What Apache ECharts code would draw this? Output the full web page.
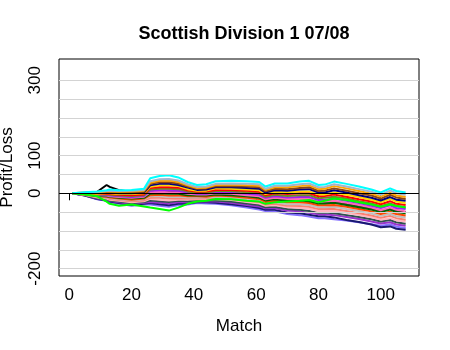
<!DOCTYPE html>
<html>
<head>
<meta charset="utf-8">
<script src="https://cdn.jsdelivr.net/npm/echarts@6/dist/echarts.min.js"></script>
<style>html,body{margin:0;padding:0;background:#fff}#c{width:450px;height:350px}</style>
</head>
<body>
<div id="c"></div>
<script>
const matches = [1,5,9,12,13,16,20,24,26,29,32,35,38,41,44,47,52,57,61,63,66,70,74,77,80,82,85,89,93,97,100,103,105,108];

const cyanLine      = [0,3,5,8,10,8,9,12,40,46,48,42,30,22,24,32,33,32,30,18,26,26,31,33,22,23,31,25,18,10,2,13,6,2];
const steelLine     = [0,2,4,6,7,6,7,9,32,37,38,34,24,17,18,25,26,25,24,12,20,20,24,26,16,17,24,18,11,4,-4,7,0,-4];
const orangeLine    = [0,2,3,5,5,4,5,7,28,33,34,30,21,14,15,22,23,21,20,9,16,16,19,21,11,12,19,13,6,-1,-9,1,-6,-10];
const brownLine     = [0,1,2,3,3,2,2,4,25,29,29,26,18,12,13,19,19,18,16,5,12,11,14,16,6,7,13,7,0,-6,-14,-4,-11,-15];
const navyLine      = [0,1,1,1,2,0,0,2,21,25,25,22,15,9,10,16,16,14,12,2,8,7,10,11,2,2,8,2,-5,-12,-19,-10,-17,-20];
const goldLine      = [0,0,-1,0,0,-2,-2,0,17,21,21,19,11,7,7,13,12,10,8,-2,4,2,5,5,-3,-3,2,-4,-10,-17,-24,-15,-22,-26];
const redLine       = [0,0,-2,-2,-2,-4,-5,-3,14,16,16,15,8,4,5,9,9,7,4,-5,0,-2,0,0,-8,-7,-3,-9,-16,-22,-29,-21,-28,-31];
const oliveLine     = [0,-1,-3,-3,-4,-6,-7,-5,10,12,12,11,5,2,2,6,6,3,0,-9,-4,-7,-5,-5,-13,-12,-9,-14,-21,-27,-34,-27,-33,-37];
const purpleLine    = [0,-1,-4,-5,-6,-8,-10,-7,7,8,8,7,2,-1,-1,3,2,-1,-4,-12,-8,-11,-10,-10,-18,-17,-14,-20,-26,-33,-39,-32,-39,-42];
const pinkLine      = [0,-2,-5,-6,-8,-10,-12,-9,3,4,3,3,-1,-3,-3,0,-1,-5,-8,-16,-12,-15,-15,-15,-23,-22,-20,-25,-31,-38,-45,-38,-44,-48];
const darkGreenLine = [0,-2,-7,-8,-9,-12,-14,-12,-1,0,-1,-1,-5,-6,-6,-3,-5,-8,-12,-19,-16,-20,-19,-21,-27,-27,-25,-31,-37,-43,-50,-43,-50,-53];
const orangeRedLine = [0,-3,-8,-9,-11,-14,-17,-14,-5,-4,-6,-5,-8,-8,-9,-6,-8,-12,-15,-23,-20,-24,-24,-26,-32,-32,-31,-36,-42,-48,-55,-49,-55,-59];
const grayLine      = [0,-3,-9,-11,-13,-16,-19,-16,-8,-8,-10,-9,-11,-11,-11,-9,-12,-16,-19,-26,-24,-29,-29,-31,-37,-37,-36,-42,-47,-54,-60,-55,-61,-64];
const salmonLine    = [0,-4,-10,-12,-15,-18,-21,-19,-12,-12,-14,-13,-14,-13,-14,-12,-15,-20,-23,-30,-28,-33,-34,-36,-42,-42,-42,-47,-53,-59,-65,-60,-66,-70];
const lightPinkLine = [0,-4,-11,-14,-17,-20,-24,-21,-15,-17,-19,-17,-17,-16,-16,-16,-18,-23,-27,-33,-32,-37,-39,-41,-47,-47,-47,-52,-58,-64,-70,-66,-72,-75];
const slateLine     = [0,-5,-13,-15,-19,-22,-26,-23,-19,-21,-23,-20,-21,-18,-19,-19,-22,-27,-31,-37,-36,-42,-44,-47,-52,-51,-53,-58,-63,-69,-75,-71,-77,-81];
const orchidLine    = [0,-5,-14,-17,-20,-24,-28,-25,-23,-25,-27,-24,-24,-21,-22,-22,-25,-31,-35,-40,-40,-46,-48,-52,-56,-56,-58,-63,-68,-75,-80,-77,-83,-86];
const midnightLine  = [0,-6,-15,-19,-22,-26,-31,-28,-26,-29,-32,-28,-27,-24,-24,-25,-29,-34,-39,-44,-44,-51,-53,-57,-61,-61,-64,-71,-76,-83,-90,-88,-94,-97];
const lavenderLine  = [0,-6,-16,-20,-24,-28,-33,-30,-30,-33,-36,-32,-30,-26,-27,-28,-32,-38,-43,-47,-48,-55,-58,-62,-66,-66,-69,-72,-77,-82,-86,-83,-89,-92];
const blackLine     = [0,1,4,22,17,8,4,3,6,5,4,3,-1,-3,-5,-2,-3,-7,-10,-18,-14,-17,-17,-17,-25,-24,-22,-27,-33,-40,-47,-40,-46,-50];
const limeLine      = [0,-3,-8,-22,-28,-33,-30,-35,-38,-42,-46,-38,-28,-22,-20,-15,-16,-20,-22,-28,-24,-22,-20,-18,-24,-20,-14,-18,-24,-30,-36,-30,-34,-38];

const xTicks = [0,20,40,60,80,100];
const yTicks = [-200,-100,0,100,200,300];
const yLabels = [-200,0,100,300];
const gridValues = [-200,-150,-100,-50,0,50,100,150,200,250,300];

const lines = [
  ['black', blackLine, '#000000'],
  ['lavender', lavenderLine, '#8470FF'],
  ['midnight', midnightLine, '#191970'],
  ['orchid', orchidLine, '#9932CC'],
  ['slate', slateLine, '#2F4F4F'],
  ['lightpink', lightPinkLine, '#FFB6C1'],
  ['salmon', salmonLine, '#FA8072'],
  ['gray', grayLine, '#BEBEBE'],
  ['orangered', orangeRedLine, '#FF4500'],
  ['darkgreen', darkGreenLine, '#006400'],
  ['pink', pinkLine, '#FF69B4'],
  ['purple', purpleLine, '#A020F0'],
  ['olive', oliveLine, '#6B8E23'],
  ['red', redLine, '#FF0000'],
  ['gold', goldLine, '#FFD700'],
  ['navy', navyLine, '#000080'],
  ['brown', brownLine, '#8B4513'],
  ['orange', orangeLine, '#FFA500'],
  ['steel', steelLine, '#A2B5CD'],
  ['lime', limeLine, '#00FF00'],
  ['cyan', cyanLine, '#00FFFF']
];

const FONT = 'Liberation Sans, Arial, sans-serif';
const chart = echarts.init(document.getElementById('c'), null, {renderer: 'canvas'});

const series = [{
  type: 'line', data: [], silent: true, z: 1,
  markLine: {
    silent: true, symbol: ['none','none'], label: {show: false}, animation: false,
    data: gridValues.map(v => ({yAxis: v, lineStyle: {color: v === 0 ? '#000000' : '#D3D3D3', width: 1, type: 'solid'}}))
  }
}];
lines.forEach(([name, arr, color]) => {
  series.push({
    name, type: 'line', z: 2, showSymbol: false, symbol: 'none', silent: true,
    data: matches.map((m, i) => [m, arr[i]]),
    lineStyle: {color, width: 2}, itemStyle: {color}
  });
});

chart.setOption({
  animation: false,
  backgroundColor: '#ffffff',
  title: {
    text: 'Scottish Division 1 07/08', left: 239, top: 20, textAlign: 'center',
    textStyle: {fontFamily: FONT, fontSize: 18, fontWeight: 'bold', color: '#000'}
  },
  grid: {left: 59, right: 31, top: 59, bottom: 74, show: true, borderColor: '#000', borderWidth: 1,
         backgroundColor: 'transparent', containLabel: false, outerBoundsMode: 'none'},
  xAxis: {
    type: 'value', min: -3.28, max: 112.28,
    axisLine: {show: false},
    splitLine: {show: false},
    axisTick: {show: true, customValues: xTicks, length: 7, lineStyle: {color: '#000'}},
    axisLabel: {customValues: xTicks, fontFamily: FONT, fontSize: 17, color: '#000', margin: 11},
    name: 'Match', nameLocation: 'middle', nameGap: 42,
    nameTextStyle: {fontFamily: FONT, fontSize: 17, color: '#000'}
  },
  yAxis: {
    type: 'value', min: -219.6, max: 356.5,
    axisLine: {show: false},
    splitLine: {show: false},
    axisTick: {show: true, customValues: yTicks, length: 8, lineStyle: {color: '#000'}},
    axisLabel: {customValues: yLabels, rotate: 90, fontFamily: FONT, fontSize: 17, color: '#000', margin: 15},
    name: 'Profit/Loss', nameLocation: 'middle', nameGap: 43, nameRotate: 90,
    nameTextStyle: {fontFamily: FONT, fontSize: 17, color: '#000'}
  },
  series
});
</script>
</body>
</html>
